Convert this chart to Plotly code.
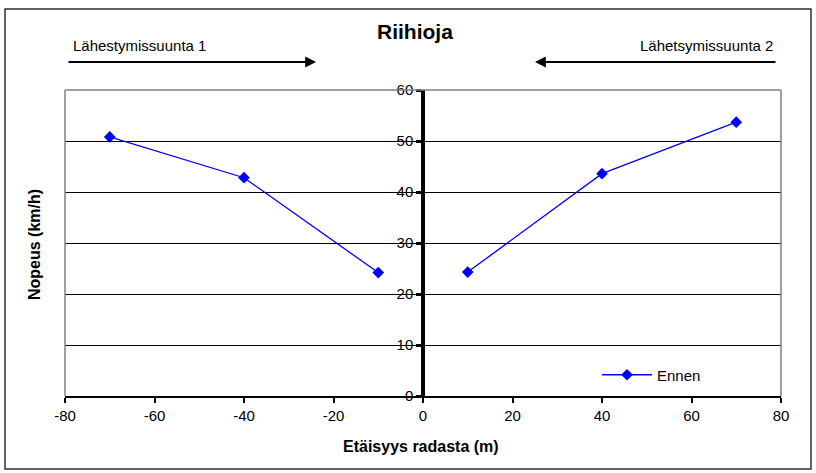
import plotly.graph_objects as go

# Measured speeds on both approach directions (distance from the track, m)
distance_dir1 = [-70, -40, -10]
speed_dir1 = [50.8, 42.8, 24.2]
distance_dir2 = [10, 40, 70]
speed_dir2 = [24.3, 43.6, 53.7]

x_ticks = [-80, -60, -40, -20, 0, 20, 40, 60, 80]
y_ticks = [0, 10, 20, 30, 40, 50, 60]

series_name = "Ennen"
chart_title = "Riihioja"
dir1_label = "Lähestymissuunta 1"
dir2_label = "Lähetsymissuunta 2"
x_title = "Etäisyys radasta (m)"
y_title = "Nopeus (km/h)"

FONT = "Liberation Sans, Arial, sans-serif"
BLUE = "#0000FF"

# Plot area geometry in pixels
W, H = 816, 473
L, R, T, B = 65, 781, 90, 396


def px_x(p):
    return (p - L) / (R - L)


def px_y(p):
    return (B - p) / (B - T)


x_all = distance_dir1 + [None] + distance_dir2
y_all = speed_dir1 + [None] + speed_dir2

fig = go.Figure()
fig.add_trace(go.Scatter(
    x=x_all, y=y_all, name=series_name, mode="lines+markers",
    connectgaps=False,
    line=dict(color=BLUE, width=1.3),
    marker=dict(symbol="diamond", size=9, color=BLUE),
))

fig.update_layout(
    width=W, height=H,
    margin=dict(l=L, r=W - R, t=T, b=H - B),
    paper_bgcolor="white", plot_bgcolor="white",
    font=dict(family=FONT, size=15, color="black"),
    showlegend=True,
    legend=dict(x=px_x(597), y=px_y(375), xanchor="left", yanchor="middle",
                bgcolor="rgba(0,0,0,0)", borderwidth=0, itemwidth=50,
                font=dict(family=FONT, size=15, color="black")),
    xaxis=dict(
        range=[-80, 80], tickvals=x_ticks, ticktext=[str(v) for v in x_ticks],
        showgrid=False, zeroline=False,
        showline=True, linecolor="black", linewidth=1.5,
        ticks="outside", ticklen=5, tickwidth=1.5, tickcolor="black",
        tickfont=dict(family=FONT, size=15, color="black"),
    ),
    yaxis=dict(
        range=[0, 60], tickvals=y_ticks, ticktext=[str(v) for v in y_ticks],
        anchor="free", position=0.5,
        showgrid=True, gridcolor="black", gridwidth=1,
        zeroline=False,
        showline=True, linecolor="black", linewidth=3.5,
        ticks="outside", ticklen=5, tickwidth=2.5, tickcolor="black",
        tickfont=dict(family=FONT, size=15, color="black"),
    ),
)

# Plot-area frame (left, right, top) in grey
frame = dict(type="line", xref="paper", yref="paper", layer="above",
             line=dict(color="#808080", width=1.5))
fig.add_shape(x0=0, x1=0, y0=0, y1=1, **frame)
fig.add_shape(x0=1, x1=1, y0=0, y1=1, **frame)
fig.add_shape(x0=0, x1=1, y0=1, y1=1, **frame)

# Outer chart border
fig.add_shape(type="rect", xref="paper", yref="paper",
              x0=px_x(5), x1=px_x(811), y0=px_y(9), y1=px_y(469),
              line=dict(color="#303030", width=1.5), layer="below")


def label(text, x, y, size=15, xanchor="center", angle=0):
    fig.add_annotation(text=text, xref="paper", yref="paper",
                       x=px_x(x), y=px_y(y), xanchor=xanchor, yanchor="middle",
                       showarrow=False, textangle=angle,
                       font=dict(family=FONT, size=size, color="black"))


# Title and direction labels
label(f"<b>{chart_title}</b>", 415, 31, size=21)
label(dir1_label, 71, 45, xanchor="left")
label(dir2_label, 775, 45, xanchor="right")

# Direction arrows
for tip, tail in [(316, 67), (535, 777)]:
    fig.add_annotation(text="", xref="paper", yref="paper",
                       x=px_x(tip), y=px_y(62), ax=tail - tip, ay=0,
                       xanchor="center", yanchor="middle",
                       showarrow=True, arrowhead=2, arrowsize=1.2,
                       arrowwidth=1.8, arrowcolor="black", standoff=0)

# Axis titles
label(f"<b>{x_title}</b>", 421, 446, size=16)
label(f"<b>{y_title}</b>", 34, 245, size=16, angle=-90)

fig.write_html("out.html")
